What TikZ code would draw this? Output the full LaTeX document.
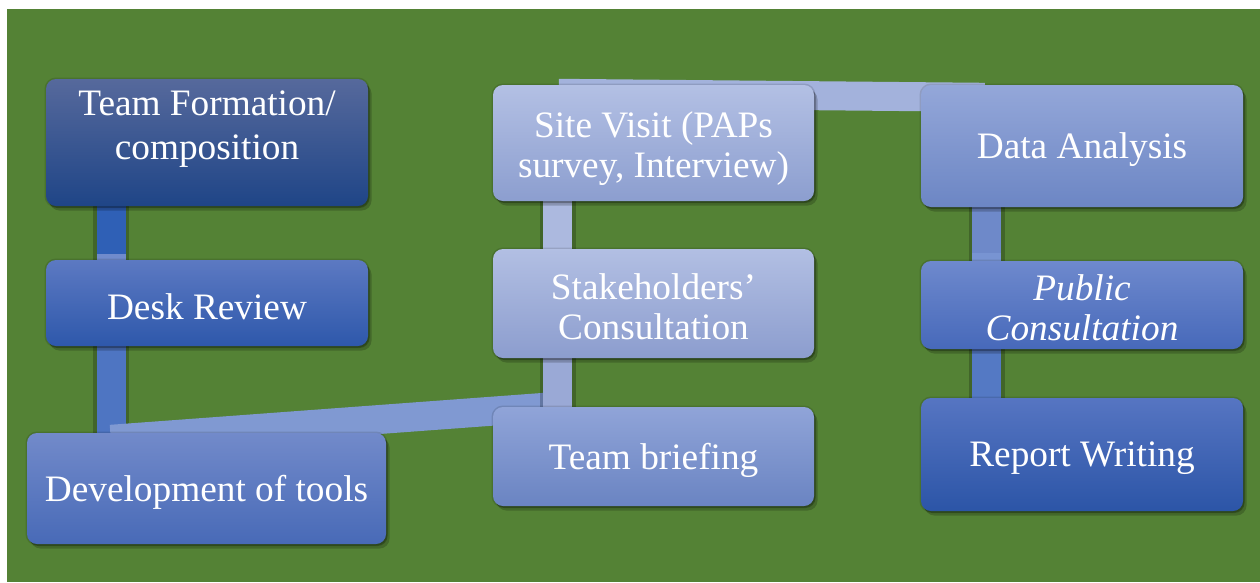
\documentclass[tikz,border=0pt]{standalone}
\usepackage{fontspec}
\setmainfont{Liberation Serif}
\usetikzlibrary{calc}

% palette
\definecolor{field}{RGB}{84,130,53}
\definecolor{tfTop}{RGB}{86,105,156}   \definecolor{tfBot}{RGB}{31,69,135}
\definecolor{drTop}{RGB}{92,121,194}   \definecolor{drBot}{RGB}{46,88,171}
\definecolor{dvTop}{RGB}{114,138,202}  \definecolor{dvBot}{RGB}{72,106,183}
\definecolor{tbTop}{RGB}{144,164,216}  \definecolor{tbBot}{RGB}{106,132,194}
\definecolor{scTop}{RGB}{178,191,227}  \definecolor{scBot}{RGB}{140,157,206}
\definecolor{svTop}{RGB}{179,192,228}  \definecolor{svBot}{RGB}{140,158,207}
\definecolor{daTop}{RGB}{148,167,217}  \definecolor{daBot}{RGB}{108,134,196}
\definecolor{pcTop}{RGB}{110,137,205}  \definecolor{pcBot}{RGB}{71,105,186}
\definecolor{rwTop}{RGB}{86,117,194}   \definecolor{rwBot}{RGB}{44,85,167}
\definecolor{linkA}{RGB}{47,96,182}
\definecolor{linkAend}{RGB}{112,139,204}
\definecolor{linkB}{RGB}{78,117,194}
\definecolor{linkC}{RGB}{128,153,210}
\definecolor{linkD}{RGB}{154,169,214}
\definecolor{linkE}{RGB}{172,185,223}
\definecolor{linkF}{RGB}{163,178,220}
\definecolor{linkG}{RGB}{110,137,201}
\definecolor{linkGend}{RGB}{120,148,210}
\definecolor{linkH}{RGB}{84,121,196}

\pgfdeclarelayer{ground}
\pgfdeclarelayer{links}
\pgfsetlayers{ground,links,main}

\begin{document}
\begin{tikzpicture}[x=1pt,y=-1pt,
  stepbox/.style={rectangle, rounded corners=10pt, draw=none, inner sep=0pt,
    preaction={draw=black, line width=3pt, opacity=.12},
    preaction={fill=black, opacity=.20, transform canvas={shift={(3.5pt,-4.5pt)}}},
    preaction={fill=black, opacity=.22, transform canvas={shift={(1.5pt,-2pt)}}}},
  lbl/.style={text=white, align=center, inner sep=0pt,
    font=\fontsize{37.3}{40}\selectfont},
  vlink/.style={line width=29pt,
    preaction={draw=black, opacity=.22, line width=36pt},
    preaction={draw=black, opacity=.15, transform canvas={shift={(1.5pt,-2pt)}}}},
  hlink/.style={line width=29pt,
    preaction={draw=black, opacity=.25, transform canvas={shift={(1.5pt,-4pt)}}},
    preaction={draw=black, opacity=.15, transform canvas={shift={(0.5pt,-2pt)}}}},
  linkend/.style={line width=29pt},
  shadeTF/.style={top color=tfTop, bottom color=tfBot},
  shadeDR/.style={top color=drTop, bottom color=drBot},
  shadeDV/.style={top color=dvTop, bottom color=dvBot},
  shadeTB/.style={top color=tbTop, bottom color=tbBot},
  shadeSC/.style={top color=scTop, bottom color=scBot},
  shadeSV/.style={top color=svTop, bottom color=svBot},
  shadeDA/.style={top color=daTop, bottom color=daBot},
  shadePC/.style={top color=pcTop, bottom color=pcBot},
  shadeRW/.style={top color=rwTop, bottom color=rwBot}]

\useasboundingbox (0,0) rectangle (1260,582);

% left column
\node[stepbox, shadeTF, minimum width=322pt, minimum height=127pt] (tf) at (207,142.5) {};
\node[stepbox, shadeDR, minimum width=322pt, minimum height=86pt] (dr) at (207,303) {};
\node[stepbox, shadeDV, minimum width=359pt, minimum height=111pt] (dv) at (206.5,488.5) {};

% middle column
\node[stepbox, shadeTB, minimum width=321pt, minimum height=99pt] (tb) at (653.5,456.5) {};
\node[stepbox, shadeSC, minimum width=321pt, minimum height=109pt] (sc) at (653.5,303.5) {};
\node[stepbox, shadeSV, minimum width=321pt, minimum height=116pt] (sv) at (653.5,143) {};

% right column
\node[stepbox, shadeDA, minimum width=322pt, minimum height=122pt] (da) at (1082,146) {};
\node[stepbox, shadePC, minimum width=322pt, minimum height=88pt] (pc) at (1082,305) {};
\node[stepbox, shadeRW, minimum width=322pt, minimum height=113pt] (rw) at (1082,454.5) {};

% step texts
\node[lbl, font=\fontsize{37.3}{44}\selectfont] (tftext) at ($(tf.center)+(0,-13)$) {Team Formation/\\composition};
\node[lbl] (drtext) at ($(dr.center)+(0,4)$) {Desk Review};
\node[lbl] (dvtext) at ($(dv.center)+(0,3.5)$) {Development of tools};
\node[lbl] (tbtext) at ($(tb.center)+(0,4)$) {Team briefing};
\node[lbl] (sctext) at ($(sc.center)+(0,3)$) {Stakeholders’\\Consultation};
\node[lbl] (svtext) at ($(sv.center)+(0,5.5)$) {Site Visit (PAPs\\survey, Interview)};
\node[lbl] (datext) at ($(da.center)+(0,4)$) {Data Analysis};
\node[lbl, font=\fontsize{37.3}{40}\selectfont\itshape] (pctext) at ($(pc.center)+(0,2.5)$) {Public\\Consultation};
\node[lbl] (rwtext) at ($(rw.center)+(0,4)$) {Report Writing};

% page and green field
\begin{pgfonlayer}{ground}
  \fill[white] (0,0) rectangle (1260,582);
  \fill[field] (7,9) rectangle (1260,582);
\end{pgfonlayer}

% connecting bands behind the boxes
\begin{pgfonlayer}{links}
  \draw[vlink, linkA] ($(tf.south west)+(65.5,-4)$) -- ($(dr.north west)+(65.5,4)$);
  \draw[linkend, linkAend] ($(dr.north west)+(65.5,-6)$) -- ($(dr.north west)+(65.5,2)$);
  \draw[vlink, linkB] ($(dr.south west)+(65.5,-4)$) -- ($(dv.north west)+(84.5,4)$);
  \draw[hlink, linkC] ($(dv.north west)+(84,6.5)$) -- ($(tb.north west)+(52,0.5)$);
  \draw[vlink, linkD] ($(tb.north west)+(65,4)$) -- ($(sc.south west)+(65,-4)$);
  \draw[vlink, linkE] ($(sc.north west)+(65,4)$) -- ($(sv.south west)+(65,-4)$);
  \draw[hlink, linkF] ($(sv.north west)+(66,8.5)$) -- ($(da.north west)+(64,12.5)$);
  \draw[vlink, linkG] ($(da.south west)+(66,-4)$) -- ($(pc.north west)+(66,4)$);
  \draw[linkend, linkGend] ($(pc.north west)+(66,-8)$) -- ($(pc.north west)+(66,2)$);
  \draw[vlink, linkH] ($(pc.south west)+(66,-4)$) -- ($(rw.north west)+(66,4)$);
\end{pgfonlayer}

\end{tikzpicture}
\end{document}
